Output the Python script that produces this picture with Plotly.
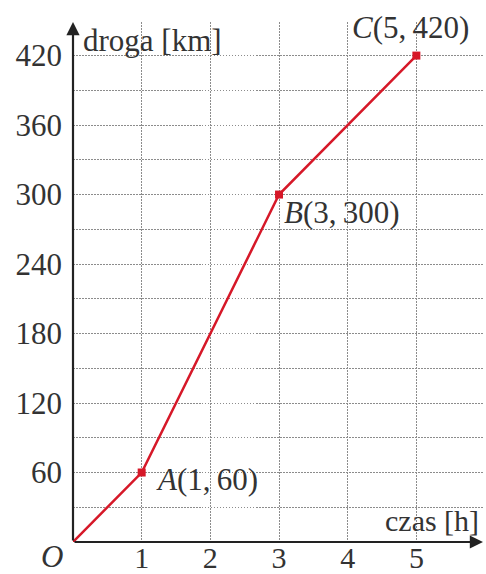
import plotly.graph_objects as go

czas = [0, 1, 3, 5]
droga = [0, 60, 300, 420]
nazwy = ['', 'A', 'B', 'C']

x_ticks = [1, 2, 3, 4, 5]
y_ticks = [60, 120, 180, 240, 300, 360, 420]

X_MAX = 5.97
Y_MAX = 449

LINE_COLOR = 'rgb(214,24,40)'
GRID_COLOR = 'rgb(140,140,140)'
GRID_DASH = '1.5px,1.5px'
FONT = 'Liberation Serif'
TEXT_COLOR = '#333'

fig = go.Figure()

fig.add_trace(go.Scatter(
    x=czas,
    y=droga,
    mode='lines',
    line=dict(color=LINE_COLOR, width=2.5),
    hoverinfo='skip'
))
fig.add_trace(go.Scatter(
    x=czas[1:],
    y=droga[1:],
    mode='markers',
    marker=dict(color=LINE_COLOR, size=8, symbol='square'),
    hoverinfo='skip'
))

# point labels
offsets = {
    'A': dict(xanchor='left', yanchor='middle', xshift=12, yshift=-7),
    'B': dict(xanchor='left', yanchor='middle', xshift=3, yshift=-18),
    'C': dict(xanchor='center', yanchor='middle', xshift=-6, yshift=28),
}
for name, t, s in zip(nazwy, czas, droga):
    if not name:
        continue
    fig.add_annotation(
        x=t, y=s,
        text='<i>%s</i>(%d,\u2009%d)' % (name, t, s),
        showarrow=False,
        font=dict(family=FONT, size=31, color=TEXT_COLOR),
        **offsets[name]
    )

# axes with arrows
fig.add_annotation(x=X_MAX, y=0, ax=0, ay=0, axref='x', ayref='y',
                   showarrow=True, arrowhead=2, arrowsize=1.2, arrowwidth=2.2,
                   arrowcolor='#222', text='')
fig.add_annotation(x=0, y=Y_MAX, ax=0, ay=0, axref='x', ayref='y',
                   showarrow=True, arrowhead=2, arrowsize=1.2, arrowwidth=2.2,
                   arrowcolor='#222', text='')

# axis titles
fig.add_annotation(x=0, y=Y_MAX, text='droga [km]', showarrow=False,
                   xanchor='left', yanchor='middle', xshift=8, yshift=-18,
                   font=dict(family=FONT, size=31, color=TEXT_COLOR))
fig.add_annotation(x=X_MAX, y=0, text='czas [h]', showarrow=False,
                   xanchor='right', yanchor='middle', xshift=-2, yshift=22,
                   font=dict(family=FONT, size=30, color=TEXT_COLOR))
fig.add_annotation(x=0, y=0, text='<i>O</i>', showarrow=False,
                   xanchor='right', yanchor='middle', xshift=-8, yshift=-14,
                   font=dict(family=FONT, size=31, color=TEXT_COLOR))

fig.update_xaxes(
    range=[0, X_MAX],
    tickvals=x_ticks,
    ticktext=[str(v) for v in x_ticks],
    showgrid=True, gridcolor=GRID_COLOR, griddash=GRID_DASH, gridwidth=1,
    zeroline=False, showline=False, ticks='',
    automargin=False,
    ticklabelstandoff=-5,
    tickfont=dict(family=FONT, size=30, color=TEXT_COLOR),
)
fig.update_yaxes(
    range=[0, Y_MAX],
    tickvals=y_ticks,
    ticktext=[str(v) for v in y_ticks],
    showgrid=True, gridcolor=GRID_COLOR, griddash=GRID_DASH, gridwidth=1,
    minor=dict(dtick=30, tick0=0, showgrid=True, gridcolor=GRID_COLOR,
               griddash=GRID_DASH, gridwidth=1),
    zeroline=False, showline=False, ticks='',
    automargin=False,
    ticklabelstandoff=10,
    tickfont=dict(family=FONT, size=31, color=TEXT_COLOR),
)

fig.update_layout(
    width=486, height=574,
    autosize=False,
    showlegend=False,
    plot_bgcolor='white',
    paper_bgcolor='white',
    margin=dict(l=73, r=3, t=22, b=32),
)

# the page body has a default margin, drop it so the figure fills the window
fig.write_html('out.html', config={'displayModeBar': False},
               post_script="document.body.style.margin='0';")
